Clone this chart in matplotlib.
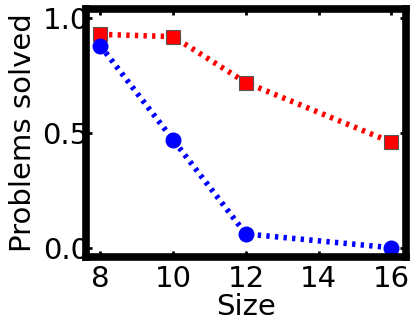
import matplotlib
matplotlib.use("Agg")
from matplotlib import pyplot as plt

# Data
sizes = [8, 10, 12, 16]
solved_red = [0.93, 0.92, 0.72, 0.46]
solved_blue = [0.88, 0.47, 0.06, 0.0]

x_ticks = [8, 10, 12, 14, 16]
y_ticks = [0.0, 0.5, 1.0]

fig = plt.figure(figsize=(4.15, 3.26), dpi=100)
ax = fig.add_axes([0.207, 0.212, 0.771, 0.76])

# short dashes, a bit longer gaps (in units of line width)
dots = (0.6, 0.95)
ax.plot(sizes, solved_red, color="red", linewidth=4, dashes=dots,
        marker="s", markersize=10.5, markeredgecolor="#555555", markeredgewidth=0.8)
ax.plot(sizes, solved_blue, color="blue", linewidth=4, dashes=dots,
        marker="o", markersize=10.5, markeredgecolor="blue")

ax.set_xlim(7.6, 16.4)
ax.set_ylim(-0.04, 1.04)
ax.set_xticks(x_ticks)
ax.set_yticks(y_ticks)

for s in ax.spines.values():
    s.set_linewidth(5.5)

ax.tick_params(direction="in", length=4, width=2, labelsize=21,
               top=True, right=True)
ax.tick_params(axis="x", pad=6)
ax.tick_params(axis="y", pad=-2)
ax.set_xlabel("Size", fontsize=21, labelpad=0)
ax.set_ylabel("Problems solved", fontsize=21, labelpad=4)

fig.savefig("out.png", dpi=100)
